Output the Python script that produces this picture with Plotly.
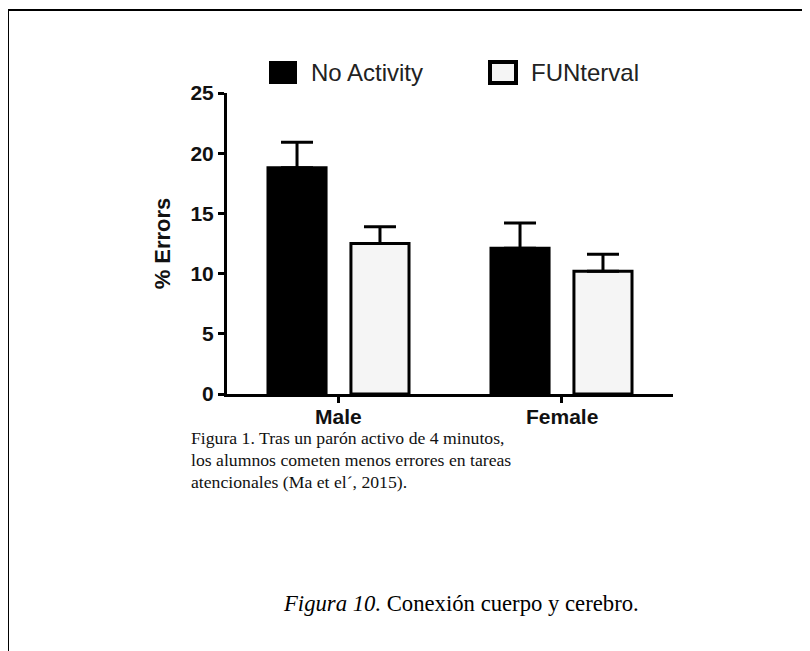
import plotly.graph_objects as go

categories = ["Male", "Female"]
cat_pos = [0, 1]
no_activity = [18.8, 12.1]
no_activity_err = [2.1, 2.1]
funterval = [12.5, 10.2]
funterval_err = [1.4, 1.4]
y_ticks = [0, 5, 10, 15, 20, 25]
series_names = ["No Activity", "FUNterval"]

caption_lines = [
    "Figura 1. Tras un parón activo de 4 minutos,",
    "los alumnos cometen menos errores en tareas",
    "atencionales (Ma et el´, 2015).",
]
figure_caption = "<i>Figura 10.</i> Conexión cuerpo y cerebro."

# page offset (body margin) and plot area in page pixels
OFF = 8
FW, FH = 810 - OFF, 651 - OFF
L, R, T, B = 227, 673, 93, 394
W_, H_ = R - L, B - T


def px(x):
    return (x - L) / W_


def py(y):
    return (B - y) / H_


fig = go.Figure()
fig.add_trace(go.Bar(
    x=cat_pos, y=no_activity, name=series_names[0],
    marker=dict(color="black", line=dict(color="black", width=3)),
    error_y=dict(type="data", array=no_activity_err, arrayminus=[0, 0],
                 symmetric=False, color="black", thickness=3, width=16),
    showlegend=False,
))
fig.add_trace(go.Bar(
    x=cat_pos, y=funterval, name=series_names[1],
    marker=dict(color="#f5f5f5", line=dict(color="black", width=3)),
    error_y=dict(type="data", array=funterval_err, arrayminus=[0, 0],
                 symmetric=False, color="black", thickness=3, width=16),
    showlegend=False,
))

axis_font = dict(family="Liberation Sans", size=21, color="#111111")

fig.update_layout(
    width=FW, height=FH,
    margin=dict(l=L - OFF, r=FW - (R - OFF), t=T - OFF, b=FH - (B - OFF)),
    paper_bgcolor="white", plot_bgcolor="white",
    barmode="group", bargap=0.256, bargroupgap=0.30,
    xaxis=dict(
        range=[-0.5, 1.5], tickvals=cat_pos, showticklabels=False,
        showline=True, linecolor="black", linewidth=3,
        ticks="outside", ticklen=6, tickwidth=3, tickcolor="black",
        showgrid=False, zeroline=False,
    ),
    yaxis=dict(
        range=[0, 25], tickvals=y_ticks,
        ticktext=[f"<b>{v}</b>" for v in y_ticks],
        showline=True, linecolor="black", linewidth=3,
        ticks="outside", ticklen=6, tickwidth=3, tickcolor="black",
        showgrid=False, zeroline=False, tickfont=axis_font,
        title=dict(text="<b>% Errors</b>", font=dict(family="Liberation Sans", size=22, color="#111111"),
                   standoff=14),
    ),
)

shapes = [
    # page frame (top and left)
    dict(type="line", xref="paper", yref="paper", x0=px(8), x1=px(820), y0=py(10), y1=py(10),
         line=dict(color="black", width=2)),
    dict(type="line", xref="paper", yref="paper", x0=px(8), x1=px(8), y0=py(10), y1=py(660),
         line=dict(color="black", width=2)),
    # legend keys
    dict(type="rect", xref="paper", yref="paper", x0=px(270), x1=px(296), y0=py(62), y1=py(83),
         fillcolor="black", line=dict(color="black", width=2)),
    dict(type="rect", xref="paper", yref="paper", x0=px(490), x1=px(516), y0=py(62), y1=py(83),
         fillcolor="#f5f5f5", line=dict(color="black", width=4)),
]

annotations = [
    dict(text=series_names[0], xref="paper", yref="paper", x=px(309), y=py(72),
         xanchor="left", yanchor="middle", showarrow=False,
         font=dict(family="Liberation Sans", size=24, color="#222222")),
    dict(text=series_names[1], xref="paper", yref="paper", x=px(529), y=py(72),
         xanchor="left", yanchor="middle", showarrow=False,
         font=dict(family="Liberation Sans", size=24, color="#222222")),
    dict(text=figure_caption, xref="paper", yref="paper", x=px(460.5), y=py(603),
         xanchor="center", yanchor="middle", showarrow=False,
         font=dict(family="Liberation Serif", size=22.7, color="black")),
]
for c, xpos in zip(categories, cat_pos):
    annotations.append(dict(text=f"<b>{c}</b>", xref="x", yref="paper", x=xpos, y=py(416),
                            xanchor="center", yanchor="middle", showarrow=False,
                            font=axis_font))
for i, line in enumerate(caption_lines):
    annotations.append(dict(text=line, xref="paper", yref="paper", x=px(189), y=py(438 + 22 * i),
                            xanchor="left", yanchor="middle", showarrow=False,
                            font=dict(family="Liberation Serif", size=17.7, color="#111111")))

fig.update_layout(shapes=shapes, annotations=annotations)
fig.write_html("out.html")
